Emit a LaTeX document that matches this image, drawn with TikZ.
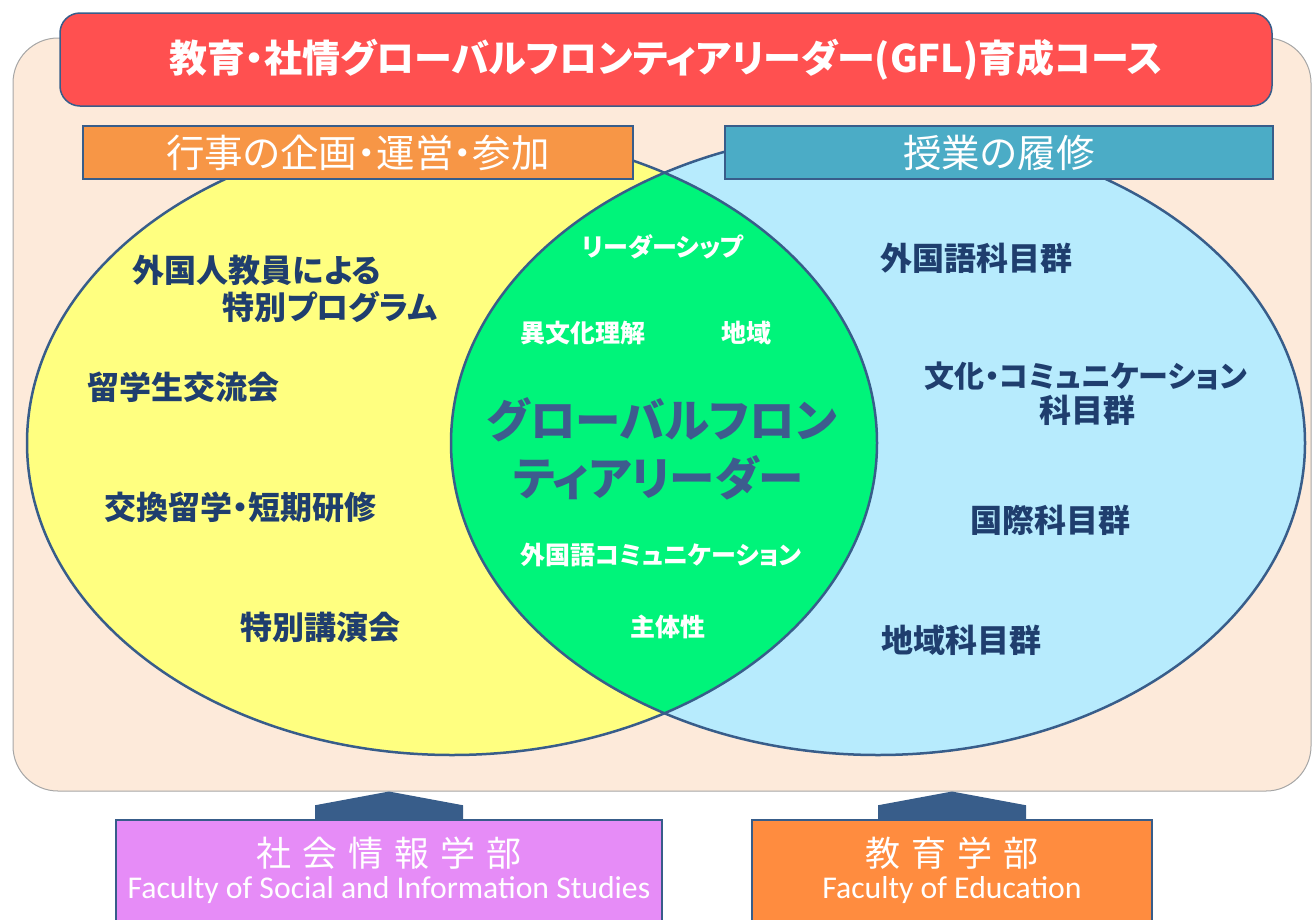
\documentclass[tikz,border=0pt]{standalone}
\usepackage{fontspec}
\setmainfont{Carlito}
\newfontfamily\jp[RawFeature=+palt]{Noto Sans CJK JP}
\newfontfamily\jpwide{Noto Sans CJK JP}
\usetikzlibrary{positioning}

\definecolor{bgpeach}{HTML}{FDEADA}
\definecolor{titlered}{HTML}{FF5050}
\definecolor{edgeblue}{HTML}{385D8A}
\definecolor{eventorange}{HTML}{F79646}
\definecolor{classblue}{HTML}{4BACC6}
\definecolor{eventyellow}{HTML}{FFFF80}
\definecolor{classcyan}{HTML}{B7EBFD}
\definecolor{coregreen}{HTML}{00F47A}
\definecolor{itemnavy}{HTML}{1F3E6E}
\definecolor{coreslate}{HTML}{3D5C8E}
\definecolor{socpink}{HTML}{E68CF7}
\definecolor{eduorange}{HTML}{FF8C3F}

\newcommand\facgap{\hspace{.31em}}

\tikzset{
  bgbox/.style={draw=gray!70, line width=1pt, fill=bgpeach, rounded corners=45pt,
    minimum width=1298pt, minimum height=753pt},
  titlebox/.style={draw=edgeblue, line width=1.5pt, fill=titlered, rounded corners=20pt,
    minimum width=1212pt, minimum height=93pt, text=white,
    font=\jp\bfseries\fontsize{38}{44}\selectfont},
  headbox/.style={draw=edgeblue, line width=1.5pt, minimum width=550pt, minimum height=53pt,
    text=white, font=\jp\fontsize{38.5}{44}\selectfont},
  facbox/.style={draw=edgeblue, line width=1.5pt, minimum height=120pt},
  upshape/.style={fill=edgeblue},
  facjp/.style={inner sep=0pt, text=white, font=\jpwide\fontsize{35}{40}\selectfont},
  facen/.style={inner sep=0pt, text=white, font=\fontsize{31.7}{36}\selectfont},
  leftitem/.style={inner sep=0pt, text=itemnavy, font=\jp\bfseries\fontsize{32}{38}\selectfont},
  rightitem/.style={leftitem},
  coreitem/.style={inner sep=0pt, text=white, font=\jp\bfseries\fontsize{25}{30}\selectfont},
  coretitle/.style={inner sep=0pt, text=coreslate, font=\jp\bfseries\fontsize{45.5}{52}\selectfont},
  ring/.style={draw=edgeblue, line width=2.5pt}
}

\begin{document}
\begin{tikzpicture}[x=1pt,y=1pt]
  \useasboundingbox (0,0) rectangle (1312,-919);
  \clip (0,0) rectangle (1312,-919);

  % frame and course title
  \node[bgbox] (bg) at (662,-414.5) {};
  \node[titlebox] (title) at (666,-59.5) {教育・社情グローバルフロンティアリーダー(GFL)育成コース};

  % the two circles
  \fill[eventyellow] (452,-443) ellipse [x radius=425, y radius=312];
  \fill[classcyan] (878,-443) ellipse [x radius=427, y radius=312];
  \begin{scope}
    \clip (452,-443) ellipse [x radius=425, y radius=312];
    \fill[coregreen] (878,-443) ellipse [x radius=427, y radius=312];
  \end{scope}
  \draw[ring] (452,-443) ellipse [x radius=425, y radius=312];
  \draw[ring] (878,-443) ellipse [x radius=427, y radius=312];

  \node[headbox, fill=eventorange] (events) at (358,-152.5) {行事の企画・運営・参加};
  \node[headbox, fill=classblue, minimum width=548pt] (classes) at (999,-152.5) {授業の履修};

  % faculties
  \node[facbox, fill=socpink, minimum width=546pt] (soc) at (389,-880) {};
  \node[facbox, fill=eduorange, minimum width=400pt] (edu) at (952,-880) {};
  \fill[upshape] ([xshift=-74pt]soc.north) -- ([xshift=-74pt,yshift=14pt]soc.north)
    -- (soc.north |- bg.south) -- ([xshift=74pt,yshift=14pt]soc.north)
    -- ([xshift=74pt]soc.north) -- cycle;
  \fill[upshape] ([xshift=-74pt]edu.north) -- ([xshift=-74pt,yshift=14pt]edu.north)
    -- (edu.north |- bg.south) -- ([xshift=74pt,yshift=14pt]edu.north)
    -- ([xshift=74pt]edu.north) -- cycle;
  \node[facjp] (socjp) at (389,-853) {社\facgap 会\facgap 情\facgap 報\facgap 学\facgap 部};
  \node[facen] (socen) at (389,-890) {Faculty of Social and Information Studies};
  \node[facjp] (edujp) at (952,-853) {教\facgap 育\facgap 学\facgap 部};
  \node[facen] (eduen) at (952,-890) {Faculty of Education};

  % events side
  \node[leftitem] (guest) at (257,-270) {外国人教員による};
  \node[leftitem] (guestprog) at (330,-307) {特別プログラム};
  \node[leftitem] (party) at (183,-387) {留学生交流会};
  \node[leftitem] (exchange) at (240,-507) {交換留学・短期研修};
  \node[leftitem] (lecture) at (320,-627) {特別講演会};

  % classes side
  \node[rightitem] (lang) at (976,-258) {外国語科目群};
  \node[rightitem, font=\jp\bfseries\fontsize{30}{36}\selectfont] (culture) at (1086,-376) {文化・コミュニケーション};
  \node[rightitem] (culturegrp) at (1087,-410) {科目群};
  \node[rightitem] (intl) at (1050,-520) {国際科目群};
  \node[rightitem] (region) at (961,-640) {地域科目群};

  % overlap
  \node[coreitem] (lead) at (663,-247) {リーダーシップ};
  \node[coreitem] (intercult) at (583,-333) {異文化理解};
  \node[coreitem] (local) at (746,-333) {地域};
  \node[coretitle] (gflone) at (662,-420) {グローバルフロン};
  \node[coretitle] (gfltwo) at (658,-478) {ティアリーダー};
  \node[coreitem] (comm) at (661,-555) {外国語コミュニケーション};
  \node[coreitem] (self) at (668,-627) {主体性};
\end{tikzpicture}
\end{document}
